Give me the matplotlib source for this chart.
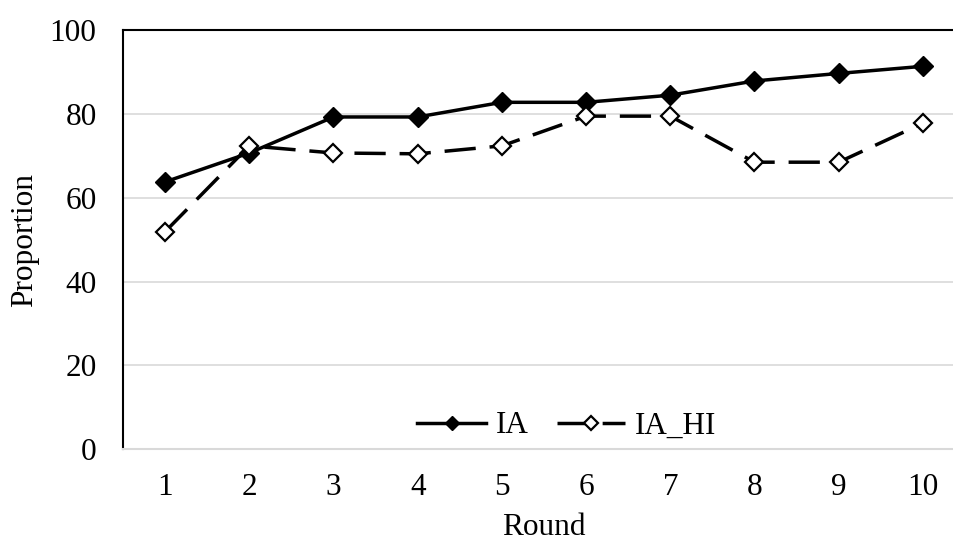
import numpy as np
import matplotlib.pyplot as plt

# donnees
rounds = [1, 2, 3, 4, 5, 6, 7, 8, 9, 10]
ia = [63.8, 70.7, 79.3, 79.3, 82.8, 82.8, 84.5, 87.9, 89.7, 91.4]
ia_hi = [51.9, 72.4, 70.7, 70.5, 72.4, 79.5, 79.5, 68.5, 68.5, 77.8]
yticks = [0, 20, 40, 60, 80, 100]

plt.rcParams['font.family'] = ['Liberation Serif', 'DejaVu Serif']
fs = 22.5

fig = plt.figure(figsize=(9.54, 5.43), dpi=100)
# zone du trace (coupee a droite comme dans l'original)
ax = fig.add_axes([123/954, 1-449/543, 842/954, (449-30.3)/543])

ax.plot(rounds, ia, color='black', lw=2.5, marker='D', ms=10.5,
        mfc='black', mec='black', label='IA', zorder=3)
ax.plot(rounds, ia_hi, color='black', lw=2.5, dashes=(9, 4), marker='D', ms=9.5,
        mfc='white', mec='black', mew=1.6, label='IA_HI', zorder=3)

ax.set_xlim(0.5, 10.5)
ax.set_ylim(0, 100)
ax.set_xticks(rounds)
ax.set_yticks(yticks)
ax.grid(axis='y', color='#d9d9d9', lw=1.2)
ax.set_axisbelow(True)

for s in ['top', 'left']:
    ax.spines[s].set_color('black')
    ax.spines[s].set_linewidth(1.5)
ax.spines['bottom'].set_color('#d9d9d9')
ax.spines['bottom'].set_linewidth(1.5)
ax.spines['right'].set_visible(False)

ax.tick_params(length=0, labelsize=fs)
ax.tick_params(axis='y', pad=19)
ax.tick_params(axis='x', pad=17)
ax.set_xlabel('Round', fontsize=fs, labelpad=8)
ax.set_ylabel('Proportion', fontsize=fs, labelpad=8)

leg = ax.legend(loc='center', bbox_to_anchor=(0.527, 0.055), ncol=2,
                frameon=False, fontsize=fs, handlelength=2.2, markerscale=0.7,
                handletextpad=0.3, columnspacing=0.9, borderpad=0)

fig.savefig('out.png', dpi=100)
